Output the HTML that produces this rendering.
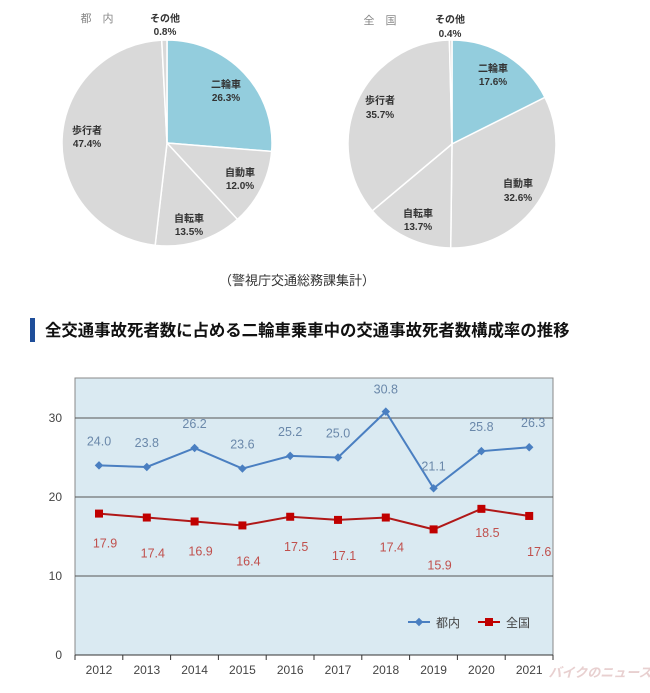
<!DOCTYPE html>
<html><head><meta charset="utf-8"><style>
body{margin:0;background:#fff;}
svg{display:block;font-family:"Liberation Sans","Noto Sans CJK JP",sans-serif;}
</style></head><body>
<svg id="s" width="650" height="693" viewBox="0 0 650 693" xmlns="http://www.w3.org/2000/svg">
<rect width="650" height="693" fill="#fff"/>
<g id="pies"></g>
<g font-size="10" font-weight="bold" fill="#333" text-anchor="middle">
<text x="97" y="22" font-weight="normal" fill="#888" font-size="11">都　内</text>
<text x="165" y="22">その他</text><text x="165" y="35">0.8%</text>
<text x="226" y="88">二輪車</text><text x="226" y="101">26.3%</text>
<text x="87" y="134">歩行者</text><text x="87" y="147">47.4%</text>
<text x="240" y="176">自動車</text><text x="240" y="189">12.0%</text>
<text x="189" y="222">自転車</text><text x="189" y="235">13.5%</text>
<text x="380" y="24" font-weight="normal" fill="#888" font-size="11">全　国</text>
<text x="450" y="23">その他</text><text x="450" y="37">0.4%</text>
<text x="493" y="72">二輪車</text><text x="493" y="85">17.6%</text>
<text x="380" y="104">歩行者</text><text x="380" y="118">35.7%</text>
<text x="518" y="187">自動車</text><text x="518" y="201">32.6%</text>
<text x="418" y="217">自転車</text><text x="418" y="230">13.7%</text>
</g>
<text x="297" y="285" font-size="13" fill="#333" text-anchor="middle">（警視庁交通総務課集計）</text>
<rect x="30" y="318" width="5" height="24" fill="#1f4e9a"/>
<text x="45" y="336" font-size="16.4" font-weight="bold" fill="#111">全交通事故死者数に占める二輪車乗車中の交通事故死者数構成率の推移</text>
<rect x="75" y="378" width="478" height="277" fill="#daeaf2" stroke="#888" stroke-width="1"/>
<g stroke="#555" stroke-width="1">
<line x1="75" y1="418" x2="553" y2="418"/><line x1="75" y1="497" x2="553" y2="497"/><line x1="75" y1="576" x2="553" y2="576"/>
<line x1="75" y1="655" x2="553" y2="655" stroke="#333"/>
</g>
<g id="ticks" stroke="#333"></g>
<g font-size="12" fill="#444" text-anchor="end">
<text x="62" y="422">30</text><text x="62" y="501">20</text><text x="62" y="580">10</text><text x="62" y="659">0</text>
</g>
<g id="lines"></g>
<g font-size="12" fill="#444">
<line x1="408" y1="622" x2="430" y2="622" stroke="#4a7fc1" stroke-width="2"/>
<rect x="416" y="619" width="6" height="6" fill="#4a7fc1" transform="rotate(45 419 622)"/>
<text x="436" y="627">都内</text>
<line x1="478" y1="622" x2="500" y2="622" stroke="#c00000" stroke-width="2"/>
<rect x="485" y="618" width="8" height="8" fill="#c00000"/>
<text x="506" y="627">全国</text>
</g>
<text x="600" y="677" font-size="13" font-weight="bold" font-style="italic" fill="#e8d0d0" text-anchor="middle">バイクのニュース</text>
</svg>
<script>
var NS="http://www.w3.org/2000/svg";
function el(p,t,a){var e=document.createElementNS(NS,t);for(var k in a)e.setAttribute(k,a[k]);p.appendChild(e);return e;}
function pie(cx,cy,rx,ry,vals,cols){
 var g=document.getElementById('pies'),a=0;
 vals.forEach(function(v,i){
  var a0=a/100*2*Math.PI,a1=(a+v)/100*2*Math.PI;a+=v;
  var x0=cx+rx*Math.sin(a0),y0=cy-ry*Math.cos(a0),x1=cx+rx*Math.sin(a1),y1=cy-ry*Math.cos(a1);
  el(g,'path',{d:'M'+cx+','+cy+'L'+x0+','+y0+'A'+rx+','+ry+' 0 '+(v>50?1:0)+' 1 '+x1+','+y1+'Z',fill:cols[i],stroke:'#fff','stroke-width':1.5});
 });
}
var c=['#93cddd','#d9d9d9','#d9d9d9','#d9d9d9','#d9d9d9'];
pie(167,143,105,103,[26.3,12.0,13.5,47.4,0.8],c);
pie(452,144,104,104,[17.6,32.6,13.7,35.7,0.4],c);
var tk=document.getElementById('ticks');
for(var i=0;i<=10;i++){var x=75+i*47.8;el(tk,'line',{x1:x,y1:655,x2:x,y2:660});}
var L=document.getElementById('lines');
var b=[24.0,23.8,26.2,23.6,25.2,25.0,30.8,21.1,25.8,26.3],r=[17.9,17.4,16.9,16.4,17.5,17.1,17.4,15.9,18.5,17.6];
function X(i){return 99+i*47.8;}function Y(v){return 655-v*7.9;}
el(L,'polyline',{points:b.map(function(v,i){return X(i)+','+Y(v)}).join(' '),fill:'none',stroke:'#4a7fc1','stroke-width':2});
el(L,'polyline',{points:r.map(function(v,i){return X(i)+','+Y(v)}).join(' '),fill:'none',stroke:'#b01818','stroke-width':2});
b.forEach(function(v,i){
 var x=X(i),y=Y(v);
 el(L,'rect',{x:x-3,y:y-3,width:6,height:6,fill:'#4a7fc1',transform:'rotate(45 '+x+' '+y+')'});
 var t=el(L,'text',{x:x+(i==9?4:0),y:y-(v>30?18:v<22?18:20),'font-size':12.5,fill:'#6a88aa','text-anchor':'middle'});t.textContent=v.toFixed(1);
});
r.forEach(function(v,i){
 var x=X(i),y=Y(v);
 el(L,'rect',{x:x-4,y:y-4,width:8,height:8,fill:'#c00000'});
 var t=el(L,'text',{x:x+6+(i==9?4:0),y:y+(i%2?40:34)-(i==8?6:0),'font-size':12.5,fill:'#c0504d','text-anchor':'middle'});t.textContent=v.toFixed(1);
});
var yrs=document.createElementNS(NS,'g');document.getElementById('s').appendChild(yrs);
for(var i=0;i<10;i++){var t=el(yrs,'text',{x:X(i),y:674,'font-size':12,fill:'#444','text-anchor':'middle'});t.textContent=2012+i;}
</script>
</body></html>
